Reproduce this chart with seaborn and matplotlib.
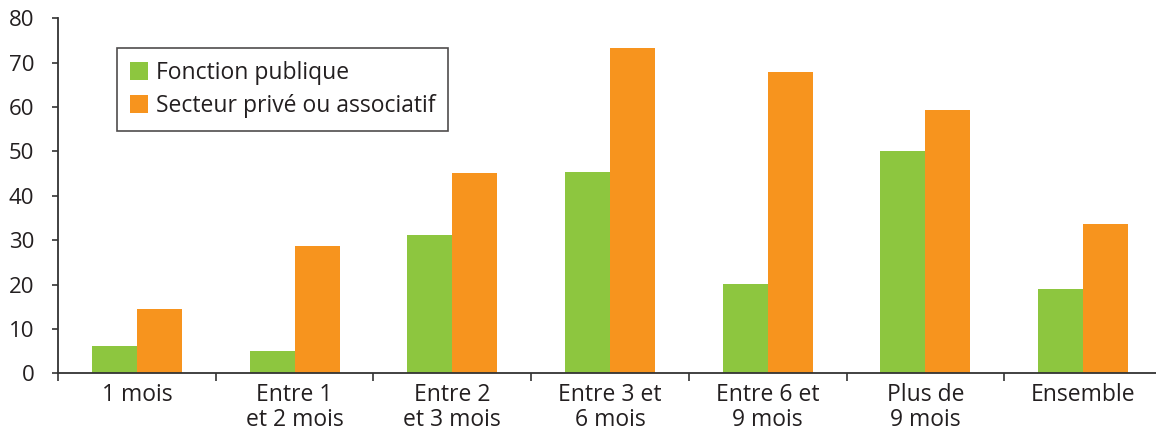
import matplotlib
matplotlib.use("Agg")
import matplotlib.pyplot as plt
import seaborn as sns
import pandas as pd
import numpy as np

categories = ["1 mois", "Entre 1\net 2 mois", "Entre 2\net 3 mois", "Entre 3 et\n6 mois",
              "Entre 6 et\n9 mois", "Plus de\n9 mois", "Ensemble"]
fonction_publique = [6.2, 5.0, 31.2, 45.3, 20.1, 50.1, 19.0]
secteur_prive = [14.6, 28.7, 45.2, 73.3, 67.9, 59.3, 33.6]
series_names = ["Fonction publique", "Secteur privé ou associatif"]
yticks = [0, 10, 20, 30, 40, 50, 60, 70, 80]

sns.set_theme(style="white")
plt.rcParams['font.family'] = ['Open Sans', 'DejaVu Sans']
text_color = "#231F20"

df = pd.DataFrame({
    "cat": categories * 2,
    "val": fonction_publique + secteur_prive,
    "serie": [series_names[0]] * len(categories) + [series_names[1]] * len(categories),
})

fig = plt.figure(figsize=(11.56, 4.34), dpi=100)
ax = fig.add_axes([58 / 1156, (434 - 373.3) / 434, (1162 - 58) / 1156, (373.3 - 18.3) / 434])

sns.barplot(data=df, x="cat", y="val", hue="serie", order=categories, hue_order=series_names,
            palette=["#8DC63F", "#F7941E"], width=0.57, linewidth=0, saturation=1, ax=ax)

ax.set_ylim(0, 80)
ax.set_xlim(-0.5, len(categories) - 0.5)
ax.set_yticks(yticks)
ax.set_yticklabels([str(t) for t in yticks])
ax.set_xlabel("")
ax.set_ylabel("")

ax.set_xticks(np.arange(len(categories)))
ax.set_xticklabels(categories, linespacing=1.05)
ax.set_xticks(np.arange(len(categories) + 1) - 0.5, minor=True)
ax.tick_params(axis="x", which="major", length=0, pad=7, labelsize=16.5, labelcolor=text_color)
ax.tick_params(axis="x", which="minor", length=6, width=1.2, color="#333333", direction="out", bottom=True)
ax.tick_params(axis="y", which="major", length=4, width=1.2, color="#333333", direction="out",
               left=True, pad=13, labelsize=16, labelcolor=text_color)

for s in ["top", "right"]:
    ax.spines[s].set_visible(False)
for s in ["left", "bottom"]:
    ax.spines[s].set_color("#333333")
    ax.spines[s].set_linewidth(1.3)

handles, labels = ax.get_legend_handles_labels()
leg = ax.legend(handles, labels, loc="upper left", bbox_to_anchor=(0.0534, 0.916), frameon=True,
                fancybox=False, edgecolor="#231F20", fontsize=16.5, handlelength=0.82, handleheight=0.82,
                handletextpad=0.35, labelspacing=0.42, borderpad=0.55, borderaxespad=0)
leg.get_frame().set_linewidth(1.2)
for t in leg.get_texts():
    t.set_color(text_color)

fig.savefig("out.png", dpi=100)
